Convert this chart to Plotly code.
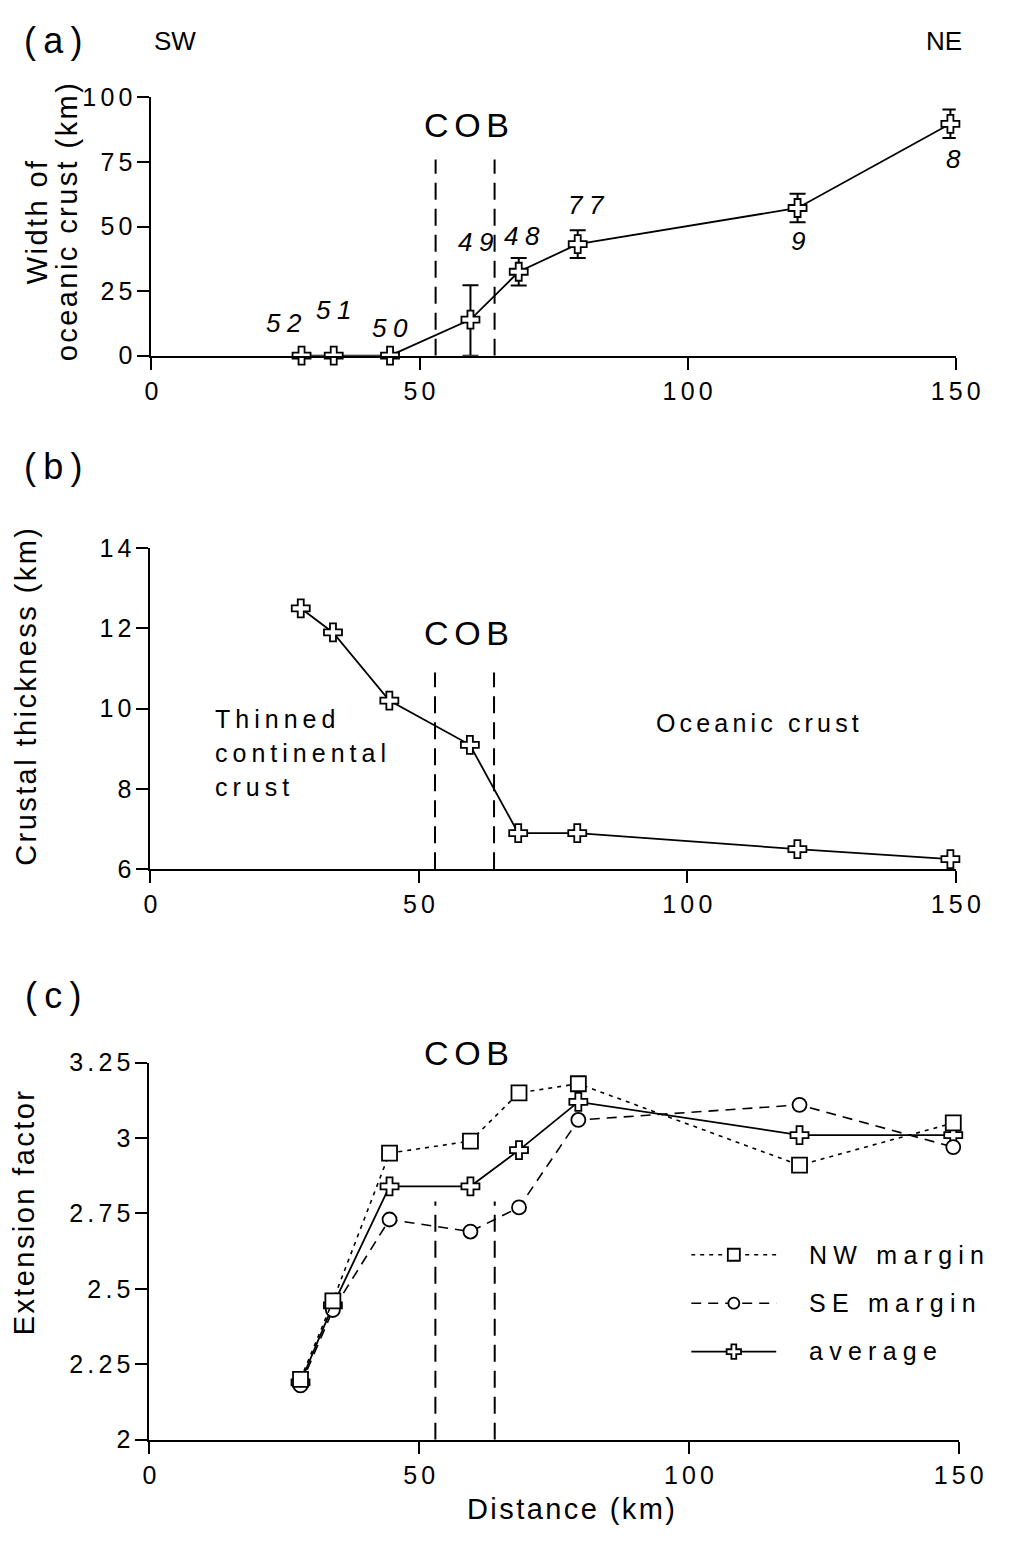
import plotly.graph_objects as go

W, H = 1036, 1545
FONT = "Liberation Sans, Arial, Helvetica, sans-serif"

# Profile positions along the margin (km) and their anomaly labels
distance_km = [28, 34, 44.5, 59.5, 68.5, 79.5, 120.5, 149]
profile_labels = ["52", "51", "50", "49", "48", "77", "9", "8"]

# (a) width of oceanic crust along each profile (km) with error bars
ocean_width_km = [0, 0, 0, 14, 32.5, 43.2, 57.2, 89.8]
width_err_plus = [0, 0, 0, 13.3, 5.3, 5.4, 5.5, 5.5]
width_err_minus = [0, 0, 0, 14, 5.3, 5.4, 5.5, 5.5]

# (b) crustal thickness (km)
crust_thickness_km = [12.5, 11.9, 10.2, 9.1, 6.9, 6.9, 6.5, 6.25]

# (c) extension factors
nw_margin = [2.20, 2.46, 2.95, 2.99, 3.15, 3.18, 2.91, 3.05]
se_margin = [2.18, 2.43, 2.73, 2.69, 2.77, 3.06, 3.11, 2.97]
average = [2.19, 2.445, 2.84, 2.84, 2.96, 3.12, 3.01, 3.01]

# continent-ocean boundary zone (km)
cob_km = [53, 64]

x_ticks = [0, 50, 100, 150]
y_ticks_a = [0, 25, 50, 75, 100]
y_ticks_b = [6, 8, 10, 12, 14]
y_ticks_c = [2, 2.25, 2.5, 2.75, 3, 3.25]
y_ticktext_c = ["2", "2.25", "2.5", "2.75", "3", "3.25"]

legend_names = ["NW margin", "SE margin", "average"]

HAIR = "\u200a"     # ~1/12 em tracking
SIXTH = "\u2006"    # 1/6 em tracking
THIN = "\u2009"     # 1/5 em tracking
QUARTER = "\u2005"  # 1/4 em tracking


def px(x):
    return x / W


def py(y):
    return 1 - y / H


def spaced(s, gap=THIN):
    return gap.join(list(s))


def axis(domain, rng, tickvals, ticktext, anchor):
    return dict(
        domain=domain, range=rng, anchor=anchor,
        showline=True, linecolor="black", linewidth=2,
        ticks="outside", ticklen=12, tickwidth=2, tickcolor="black",
        tickvals=tickvals, ticktext=[spaced(t, SIXTH) for t in ticktext],
        tickfont=dict(family=FONT, size=25, color="black"),
        showgrid=False, zeroline=False, fixedrange=True,
    )


cross = dict(symbol="cross", size=15, color="white", line=dict(color="black", width=1.8))
square = dict(symbol="square", size=15, color="white", line=dict(color="black", width=1.8))
circle = dict(symbol="circle", size=14, color="white", line=dict(color="black", width=1.8))
nw_line = dict(color="black", width=1.6, dash="4px,5px")
se_line = dict(color="black", width=1.6, dash="10px,7px")
avg_line = dict(color="black", width=1.8)

fig = go.Figure()

# (a) width of oceanic crust
fig.add_trace(go.Scatter(
    x=distance_km, y=ocean_width_km, mode="lines+markers",
    line=avg_line, marker=cross, cliponaxis=False,
    error_y=dict(type="data", array=width_err_plus, arrayminus=width_err_minus,
                 symmetric=False, color="black", thickness=2, width=8),
    xaxis="x", yaxis="y", showlegend=False,
))

# (b) crustal thickness
fig.add_trace(go.Scatter(
    x=distance_km, y=crust_thickness_km, mode="lines+markers",
    line=avg_line, marker=cross, cliponaxis=False,
    xaxis="x2", yaxis="y2", showlegend=False,
))

# (c) extension factors: average underneath the two margins
fig.add_trace(go.Scatter(x=distance_km, y=average, mode="lines+markers", line=avg_line,
                         marker=cross, cliponaxis=False, xaxis="x3", yaxis="y3", showlegend=False))
fig.add_trace(go.Scatter(x=distance_km, y=se_margin, mode="lines+markers", line=se_line,
                         marker=circle, cliponaxis=False, xaxis="x3", yaxis="y3", showlegend=False))
fig.add_trace(go.Scatter(x=distance_km, y=nw_margin, mode="lines+markers", line=nw_line,
                         marker=square, cliponaxis=False, xaxis="x3", yaxis="y3", showlegend=False))

# key for panel (c), drawn on its own small axis
key_styles = [(nw_line, square), (se_line, circle), (avg_line, cross)]
key_rows = [2.5, 1.5, 0.5]
for (ln, mk), row in zip(key_styles, key_rows):
    fig.add_trace(go.Scatter(x=[0, 1], y=[row, row], mode="lines", line=ln,
                             xaxis="x4", yaxis="y4", showlegend=False, cliponaxis=False))
    fig.add_trace(go.Scatter(x=[0.5], y=[row], mode="markers",
                             marker=dict(mk, size=mk["size"] - 3),
                             xaxis="x4", yaxis="y4", showlegend=False, cliponaxis=False))

layout = dict(
    width=W, height=H, margin=dict(l=0, r=0, t=0, b=0),
    paper_bgcolor="white", plot_bgcolor="white", showlegend=False,
    font=dict(family=FONT, color="black"),
    xaxis=axis([px(149), px(979)], [0, 150], x_ticks, [str(v) for v in x_ticks], "y"),
    yaxis=axis([py(348), py(85)], [0, 100], y_ticks_a, [str(v) for v in y_ticks_a], "x"),
    xaxis2=axis([px(148), px(979)], [0, 150], x_ticks, [str(v) for v in x_ticks], "y2"),
    yaxis2=axis([py(871), py(544)], [6, 14], y_ticks_b, [str(v) for v in y_ticks_b], "x2"),
    xaxis3=axis([px(147), px(982)], [0, 150], x_ticks, [str(v) for v in x_ticks], "y3"),
    yaxis3=axis([py(1452), py(1068)], [2, 3.25], y_ticks_c, y_ticktext_c, "x3"),
    xaxis4=dict(domain=[px(706), px(794)], range=[0, 1], anchor="y4", visible=False, fixedrange=True),
    yaxis4=dict(domain=[py(1387), py(1239)], range=[0, 3], anchor="x4", visible=False, fixedrange=True),
)
fig.update_layout(**layout)

# COB boundaries in each panel
cob_dash = dict(color="black", width=2, dash="17px,9px")
for xr, yr, top, bottom in [("x", "y", 76, 0), ("x2", "y2", 10.9, 6), ("x3", "y3", 2.79, 2)]:
    for xc in cob_km:
        fig.add_shape(type="line", xref=xr, yref=yr, x0=xc, x1=xc, y0=bottom, y1=top,
                      line=cob_dash, layer="below")

ann = []


def text(x, y, s, size, xanchor="center", yanchor="middle", angle=0, italic=False):
    ann.append(dict(x=px(x), y=py(y), xref="paper", yref="paper", text=s, showarrow=False,
                    xanchor=xanchor, yanchor=yanchor, textangle=angle,
                    font=dict(family=FONT, size=size, color="black",
                              style="italic" if italic else "normal")))


# panel letters and orientation
text(47, 27, spaced("(a)"), 36)
text(47, 461, spaced("(b)"), 36)
text(47, 1000, spaced("(c)"), 36)
text(173, 28, "SW", 26)
text(967, 28, "NE", 26)

# axis titles
text(31, 212, spaced("Width of", HAIR), 29, angle=-90)
text(62, 212, spaced("oceanic crust (km)", HAIR), 29, angle=-90)
text(20, 695, spaced("Crustal thickness (km)", HAIR), 29, angle=-90)
text(17, 1221, spaced("Extension factor", HAIR), 29, angle=-90)
text(582, 1523, spaced("Distance (km)", HAIR), 29)

# COB labels
for yy in (113, 630, 1058):
    text(474, yy, spaced("COB", SIXTH), 34)

# crust type labels in (b)
for yy, s in zip((718, 753, 787), ("Thinned", "continental", "crust")):
    text(213, yy, spaced(s), 25, xanchor="left")
text(774, 722, spaced("Oceanic crust", SIXTH), 25)

# key labels
for yy, s in zip((1264, 1313, 1362), legend_names):
    text(826, yy, spaced(s, QUARTER), 25, xanchor="left")

fig.update_layout(annotations=ann)

# profile labels next to the points in (a)
label_shift = [(-18, 33), (0, 46), (0, 28), (5, 78), (3, 36), (9, 39), (0, -33), (3, -35)]
for xv, yv, lab, (dx, dy) in zip(distance_km, ocean_width_km, profile_labels, label_shift):
    fig.add_annotation(x=xv, y=yv, xref="x", yref="y", text=spaced(lab, QUARTER), showarrow=False,
                       xshift=dx, yshift=dy,
                       font=dict(family=FONT, size=26, color="black", style="italic"))

fig.write_html("out.html")
